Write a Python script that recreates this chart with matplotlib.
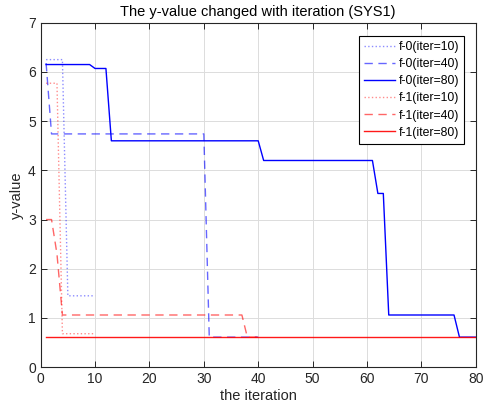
import numpy as np
import matplotlib.pyplot as plt

plt.rcParams['font.family'] = ['Liberation Sans', 'DejaVu Sans']

# y-value per iteration for two functions at three iteration budgets
f0_iter10 = [6.25, 6.25, 6.25, 6.25, 1.45, 1.45, 1.45, 1.45, 1.45, 1.45]
f0_iter40 = [6.18] + [4.74] * 29 + [0.61] * 10
f0_iter80 = ([6.15] * 9 + [6.07] * 3 + [4.60] * 28 + [4.20] * 21
             + [3.53] * 2 + [1.06] * 13 + [0.61] * 4)
f1_iter10 = [5.77, 5.77, 5.77] + [0.68] * 7
f1_iter40 = [3.0, 3.0, 2.3] + [1.06] * 34 + [0.61] * 3
f1_iter80 = [0.61] * 80

series = [
    ('f-0(iter=10)', f0_iter10, 'blue', ':', 0.45),
    ('f-0(iter=40)', f0_iter40, 'blue', (0, (6, 4)), 0.6),
    ('f-0(iter=80)', f0_iter80, 'blue', '-', 1.0),
    ('f-1(iter=10)', f1_iter10, 'red', ':', 0.45),
    ('f-1(iter=40)', f1_iter40, 'red', (0, (6, 4)), 0.6),
    ('f-1(iter=80)', f1_iter80, 'red', '-', 0.9),
]

fig = plt.figure(figsize=(4.84, 4.13), dpi=100)
ax = fig.add_axes([0.084, 0.111, 0.899, 0.834])

for label, vals, color, ls, alpha in series:
    x = np.arange(1, len(vals) + 1)
    ax.plot(x, vals, color=color, linestyle=ls, alpha=alpha, lw=1.0, label=label)

ax.set_xlim(0, 80)
ax.set_ylim(0, 7)
ax.set_xticks(np.arange(0, 81, 10))
ax.set_yticks(np.arange(0, 8, 1))
ax.grid(True, color='#dcdcdc', lw=0.7)
ax.set_axisbelow(True)
ax.tick_params(direction='in', top=True, right=True, labelsize=10, length=4,
               width=0.7, colors='#262626')
for s in ax.spines.values():
    s.set_linewidth(0.8)
    s.set_color('#262626')

ax.set_xlabel('the iteration', fontsize=10.5, color='#262626', labelpad=2)
ax.set_ylabel('y-value', fontsize=10.5, color='#262626', labelpad=3)
ax.set_title('The y-value changed with iteration (SYS1)', fontsize=10.5,
             color='black', pad=5)

leg = ax.legend(loc='upper right', fontsize=8.8, fancybox=False, framealpha=1,
                edgecolor='black', handlelength=2.5, handletextpad=0.3,
                labelspacing=0.42, borderpad=0.4, borderaxespad=0,
                bbox_to_anchor=(0.9725, 0.961))
leg.get_frame().set_linewidth(0.8)

fig.savefig('out.png', dpi=100)
